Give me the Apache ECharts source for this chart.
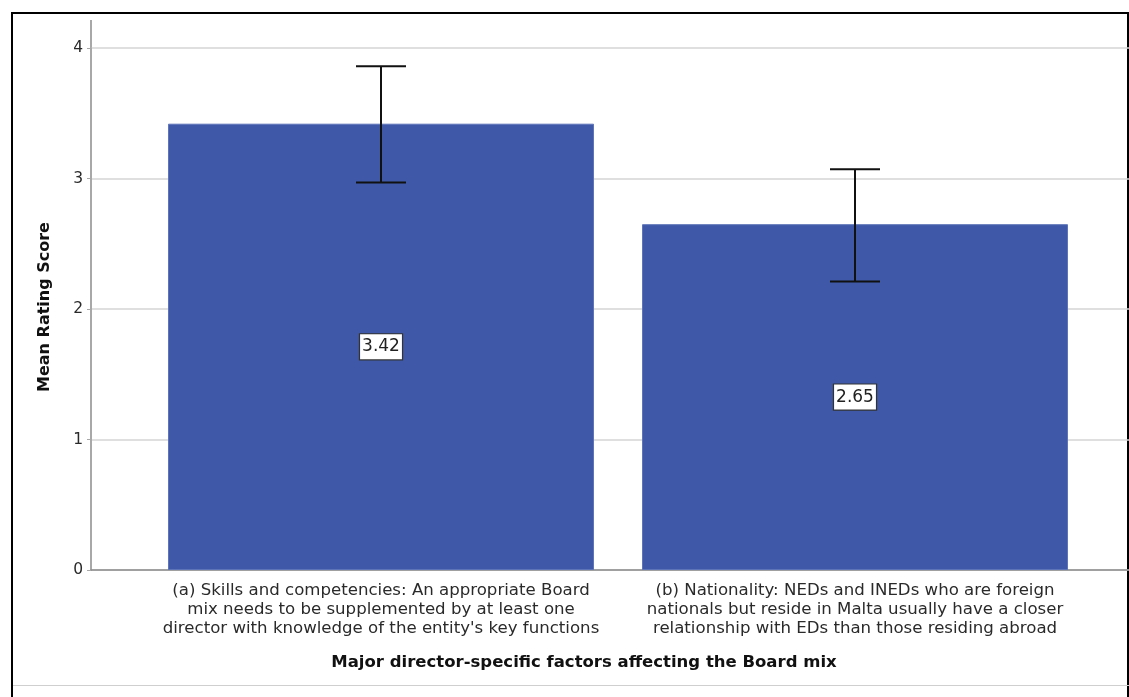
<!DOCTYPE html>
<html><head><meta charset="utf-8">
<script src="https://cdn.jsdelivr.net/npm/echarts@6/dist/echarts.min.js"></script>
<style>html,body{margin:0;padding:0;background:#fff}#c{width:1129px;height:697px}</style>
</head><body><div id="c"></div>
<script>
const categories = [
  "(a) Skills and competencies: An appropriate Board\nmix needs to be supplemented by at least one\ndirector with knowledge of the entity's key functions",
  "(b) Nationality: NEDs and INEDs who are foreign\nnationals but reside in Malta usually have a closer\nrelationship with EDs than those residing abroad"
];
const means = [3.42, 2.65];
const errLow = [2.97, 2.21];
const errHigh = [3.86, 3.07];
const yTicks = [0, 1, 2, 3, 4];

const WFONT = "'DejaVu Sans', sans-serif";
const chart = echarts.init(document.getElementById('c'));
chart.setOption({
  animation: false,
  backgroundColor: '#fff',
  grid: [
    {left: 91, right: 0, top: 48, bottom: 127},
    {left: 144, right: 37, top: 48, bottom: 127}
  ],
  xAxis: [
    {gridIndex: 0, type: 'value', min: 0, max: 1, axisLabel: {show: false}, axisTick: {show: false},
     splitLine: {show: false}, axisLine: {show: true, lineStyle: {color: '#8c8c8c', width: 1.5}}},
    {gridIndex: 1, type: 'category', data: categories,
     axisLine: {show: false}, axisTick: {show: false},
     axisLabel: {interval: 0, margin: 11, fontFamily: WFONT, fontSize: 16.6, lineHeight: 19, color: '#2a2a2a', align: 'center'}}
  ],
  yAxis: [
    {gridIndex: 0, type: 'value', min: 0, max: 4, interval: 1,
     axisLine: {show: true, lineStyle: {color: '#a8a8a8', width: 2}},
     axisTick: {show: true, length: 4, lineStyle: {color: '#a8a8a8'}},
     axisLabel: {fontFamily: WFONT, fontSize: 15.5, color: '#2a2a2a', margin: 8,
       formatter: v => yTicks.indexOf(v) >= 0 ? String(v) : ''},
     splitLine: {show: true, lineStyle: {color: '#d4d4d4', width: 1.5}}},
    {gridIndex: 1, type: 'value', min: 0, max: 4, interval: 1, show: false, splitLine: {show: false}}
  ],
  series: [
    {type: 'bar', xAxisIndex: 1, yAxisIndex: 1, data: means, barWidth: 426,
     itemStyle: {color: '#3f59a8', borderColor: '#5d74b8', borderWidth: 1},
     label: {show: true, position: 'inside', formatter: p => p.value.toFixed(2),
       fontFamily: WFONT, fontSize: 17, color: '#222', backgroundColor: '#fff',
       borderColor: '#333', borderWidth: 1.2, padding: [5, 2, 3, 2]}},
    {type: 'custom', xAxisIndex: 1, yAxisIndex: 1, z: 5,
     data: means.map((m, i) => [i, errLow[i], errHigh[i]]),
     renderItem: function (params, api) {
       const x = api.value(0);
       const lo = api.coord([x, api.value(1)]);
       const hi = api.coord([x, api.value(2)]);
       const hw = 25;
       const st = {stroke: '#111', lineWidth: 2};
       return {type: 'group', children: [
         {type: 'line', shape: {x1: lo[0], y1: lo[1], x2: hi[0], y2: hi[1]}, style: st},
         {type: 'line', shape: {x1: hi[0] - hw, y1: hi[1], x2: hi[0] + hw, y2: hi[1]}, style: st},
         {type: 'line', shape: {x1: lo[0] - hw, y1: lo[1], x2: lo[0] + hw, y2: lo[1]}, style: st}
       ]};
     }}
  ],
  graphic: [
    {type: 'line', shape: {x1: 91, y1: 20, x2: 91, y2: 48}, style: {stroke: '#a8a8a8', lineWidth: 2}},
    {type: 'line', shape: {x1: 12, y1: 13, x2: 1129, y2: 13}, style: {stroke: '#000', lineWidth: 2}},
    {type: 'line', shape: {x1: 12, y1: 12, x2: 12, y2: 697}, style: {stroke: '#000', lineWidth: 2}},
    {type: 'line', shape: {x1: 1128, y1: 12, x2: 1128, y2: 697}, style: {stroke: '#000', lineWidth: 2}},
    {type: 'line', shape: {x1: 13, y1: 685.5, x2: 1129, y2: 685.5}, style: {stroke: '#cfcfcf', lineWidth: 1}},
    {type: 'text', x: 584, y: 663, style: {text: 'Major director-specific factors affecting the Board mix',
      font: 'bold 16.5px ' + WFONT, fill: '#111', textAlign: 'center', textVerticalAlign: 'middle'}},
    {type: 'text', x: 45, y: 307, rotation: Math.PI / 2, style: {text: 'Mean Rating Score',
      font: 'bold 16px ' + WFONT, fill: '#111', textAlign: 'center', textVerticalAlign: 'middle'}}
  ]
});
</script></body></html>
